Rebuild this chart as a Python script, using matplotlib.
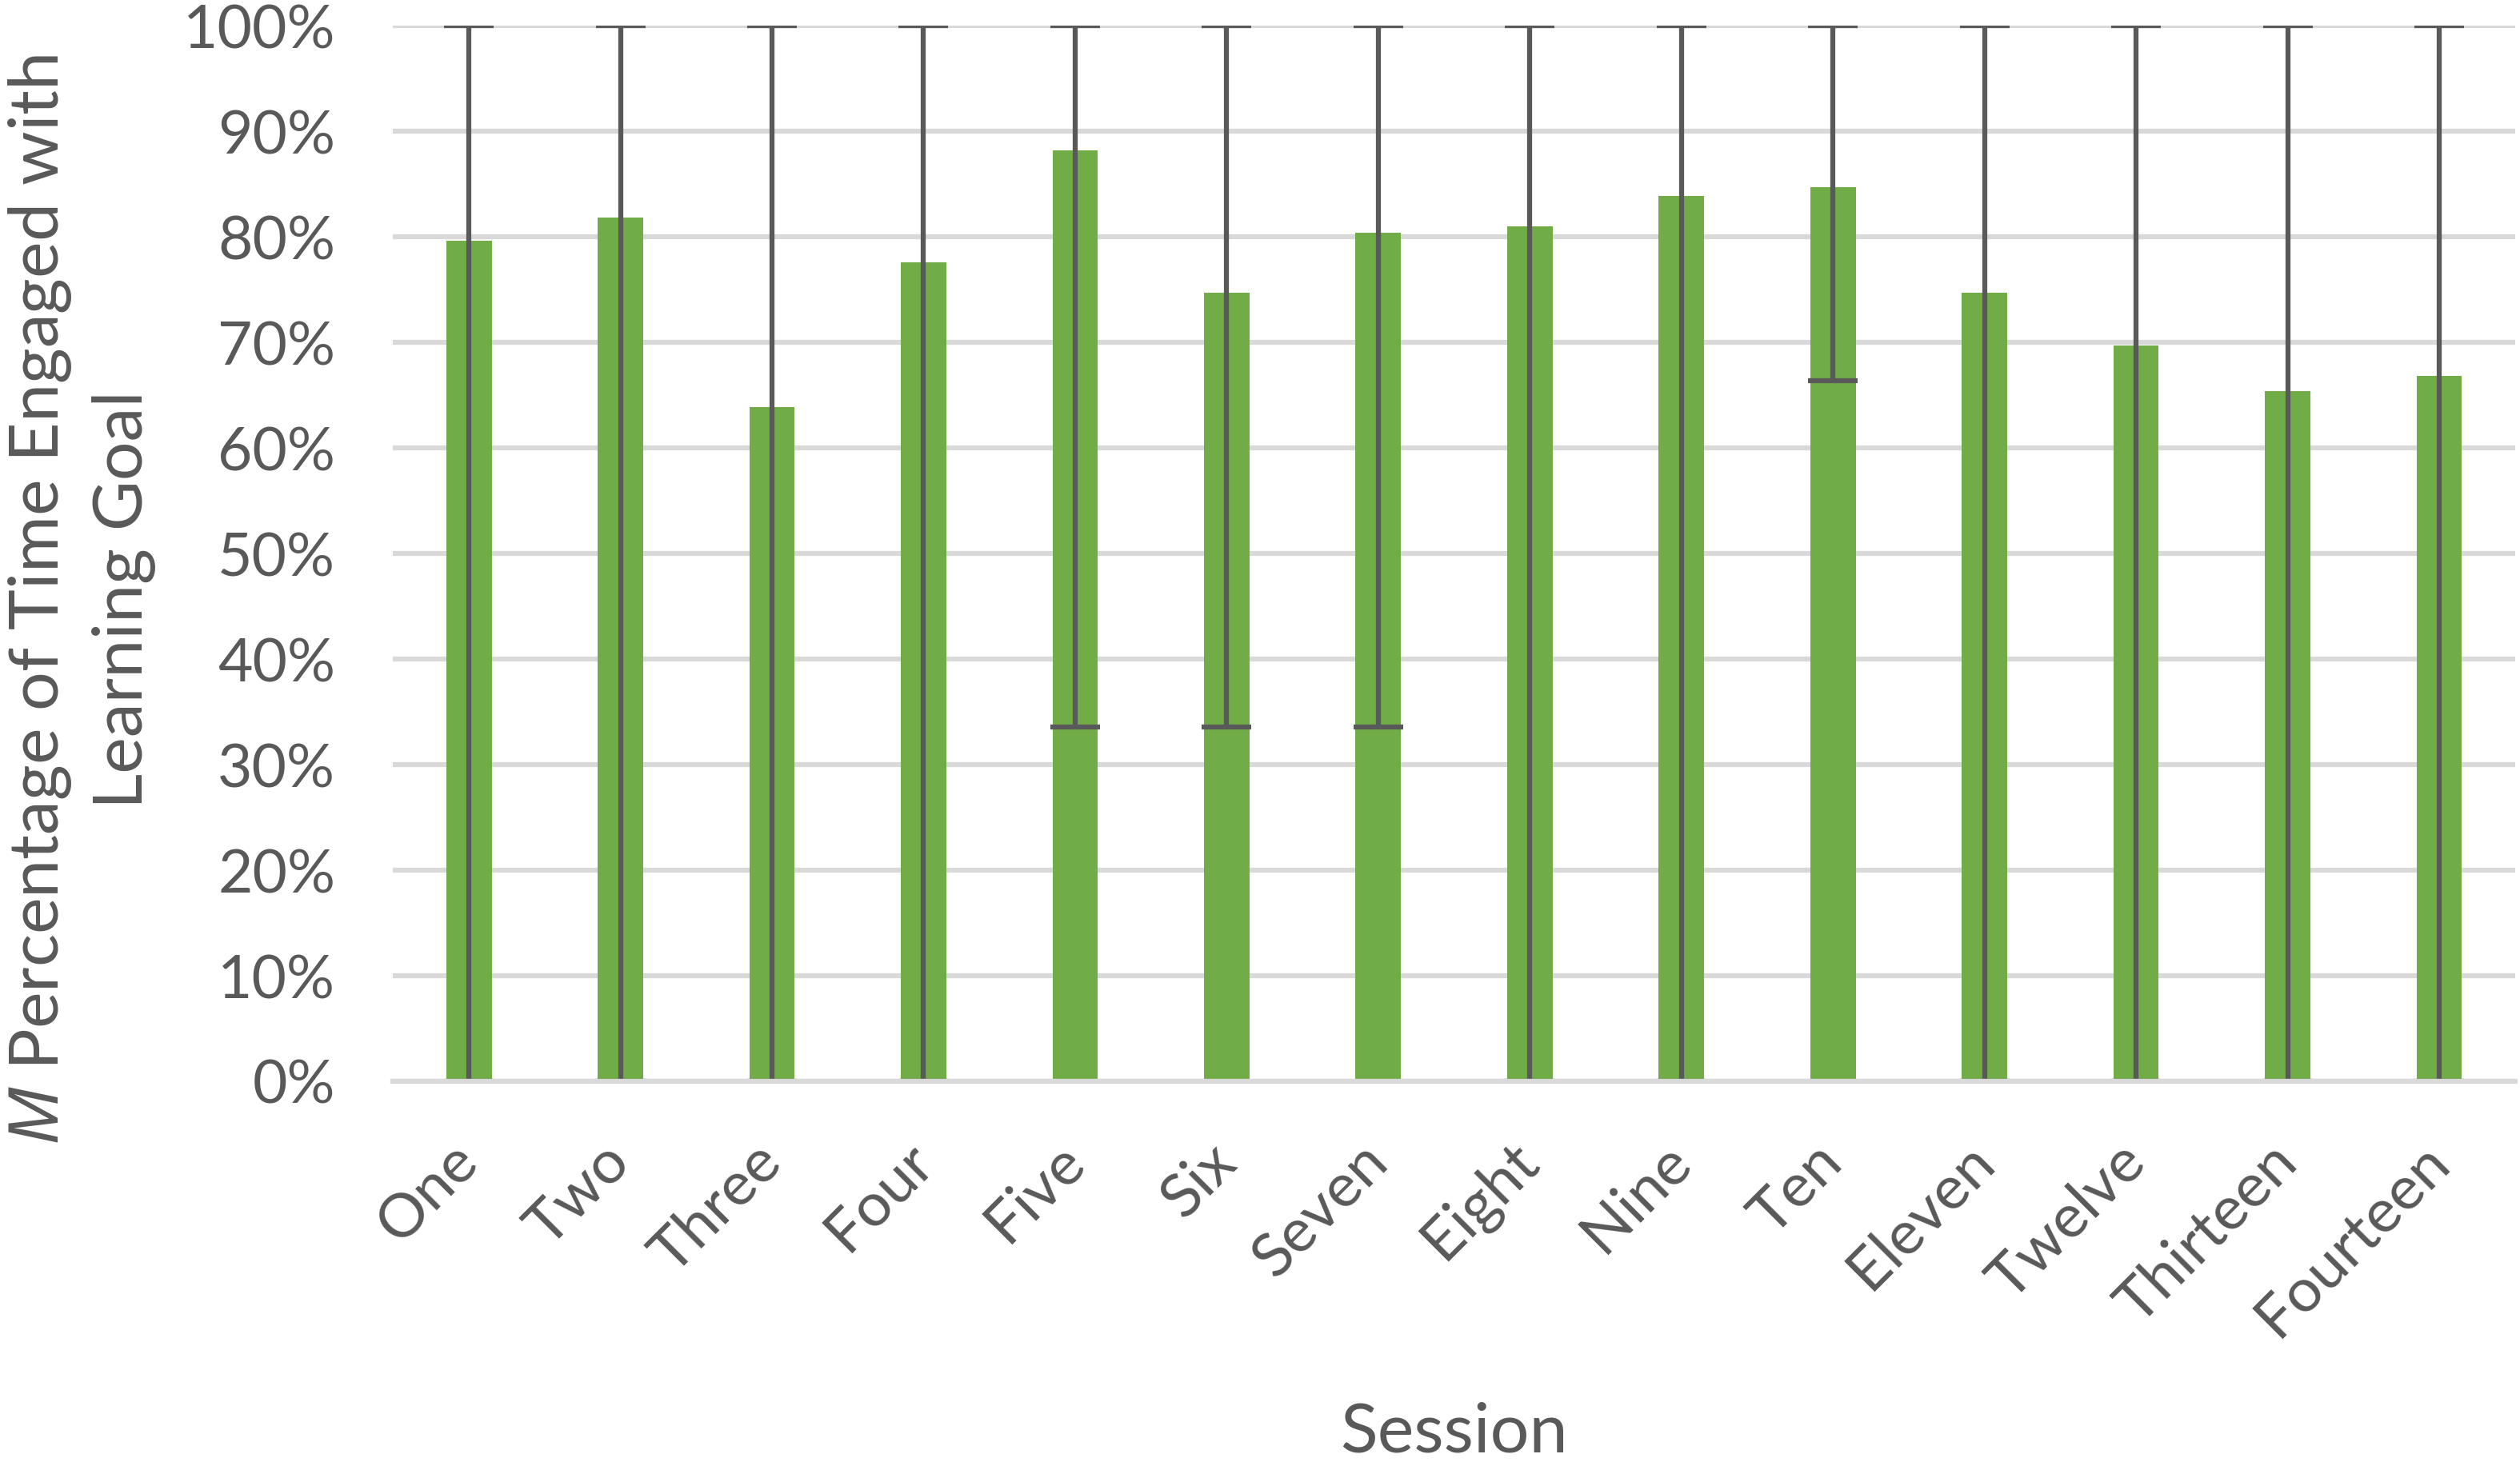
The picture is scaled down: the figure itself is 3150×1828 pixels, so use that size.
import numpy as np
import matplotlib
matplotlib.use("Agg")
import matplotlib.pyplot as plt
from matplotlib.ticker import PercentFormatter

# session labels and mean % of time engaged with learning goal
sessions = ["One", "Two", "Three", "Four", "Five", "Six", "Seven",
            "Eight", "Nine", "Ten", "Eleven", "Twelve", "Thirteen", "Fourteen"]
means = [79.6, 81.8, 63.9, 77.6, 88.2, 74.7, 80.4,
         81.0, 83.9, 84.7, 74.7, 69.7, 65.4, 66.8]
# error bar ends (range of observed values)
err_high = [100] * 14
err_low = [0, 0, 0, 0, 33.6, 33.6, 33.6, 0, 0, 66.4, 0, 0, 0, 0]

GREEN = "#70AD47"
DARK = "#595959"
GRID = "#D9D9D9"

plt.rcParams["font.family"] = ["Lato", "DejaVu Sans"]
plt.rcParams["mathtext.fontset"] = "custom"
plt.rcParams["mathtext.it"] = "Noto Sans:italic"
plt.rcParams["mathtext.rm"] = "Lato"

fig = plt.figure(figsize=(31.5, 18.28), dpi=100)
ax = fig.add_axes([0.156, 0.2604, 0.842, 0.722])

x = np.arange(len(sessions))
means_arr = np.array(means)
yerr = [means_arr - np.array(err_low), np.array(err_high) - means_arr]

ax.bar(x, means_arr, width=0.30, color=GREEN, zorder=2)
ax.errorbar(x, means_arr, yerr=yerr, fmt="none", ecolor=DARK,
            elinewidth=4.5, capsize=22, capthick=4.5, zorder=3)

ax.set_xlim(-0.5, len(sessions) - 0.5)
ax.set_ylim(0, 100)
ax.set_yticks(np.arange(0, 101, 10))
ax.yaxis.set_major_formatter(PercentFormatter(decimals=0))
ax.grid(axis="y", color=GRID, linewidth=4.5, zorder=0)
ax.set_axisbelow(True)
for s in ["top", "right", "left"]:
    ax.spines[s].set_visible(False)
ax.spines["bottom"].set_color(GRID)
ax.spines["bottom"].set_linewidth(4.5)
ax.spines["bottom"].set_zorder(4)

ax.tick_params(axis="y", length=0, pad=52, labelsize=54, labelcolor=DARK)
ax.tick_params(axis="x", length=0, pad=64, labelsize=55, labelcolor=DARK)
ax.set_xticks(x)
ax.set_xticklabels(sessions, rotation=45, ha="right", va="center",
                   rotation_mode="anchor")

# axis titles
fig.text(0.577, 0.02, "Session", ha="center", va="center",
         fontsize=62, color=DARK)
fig.text(0.032, 0.59, "$\\mathit{M}$ Percentage of Time Engaged with\nLearning Goal",
         rotation=90, ha="center", va="center", fontsize=62, color=DARK,
         multialignment="center", linespacing=1.35)

fig.savefig("out.png", dpi=100, facecolor="white")
